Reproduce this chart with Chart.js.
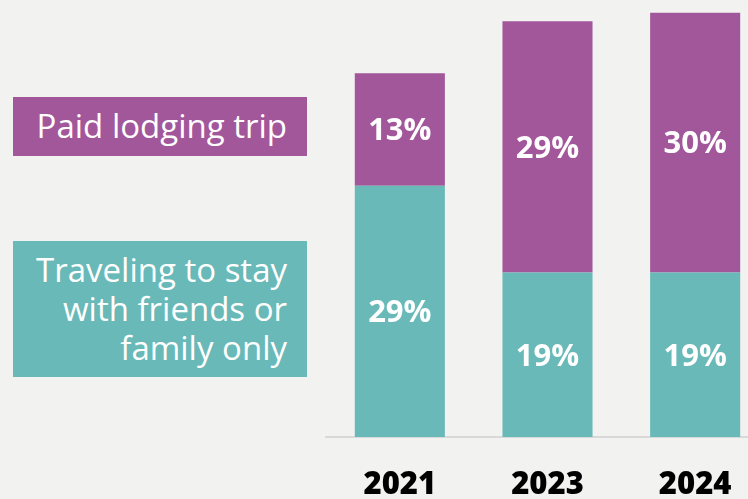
<!DOCTYPE html>
<html>
<head>
<meta charset="utf-8">
<script src="https://cdn.jsdelivr.net/npm/chart.js@4/dist/chart.umd.min.js"></script>
<style>
  html, body { margin: 0; padding: 0; background: #f2f2f0; overflow: hidden; }
  #wrap { position: relative; width: 748px; height: 499px; overflow: hidden; }
  #grafica { position: absolute; left: 0; top: 0; }
  .key { position: absolute; left: 13px; width: 294px; box-sizing: border-box; padding-right: 20px;
         color: #fff; font-family: "Open Sans", sans-serif; font-size: 33px; text-align: right; }
</style>
</head>
<body>
<div id="wrap">
  <canvas id="grafica" width="769" height="499"></canvas>
  <div class="key" id="keyPaid" style="top:97px;height:59px;line-height:57px;"></div>
  <div class="key" id="keyFriends" style="top:241px;height:136px;padding-top:9px;line-height:39px;"></div>
</div>
<script>
const years = ['2021', '2023', '2024'];
const paidLodging = [13, 29, 30];
const friendsFamily = [29, 19, 19];
const paidName = ['Paid lodging trip'];
const friendsName = ['Traveling to stay', 'with friends or', 'family only'];

const purple = '#a2579b';
const teal = '#68b9b8';

document.querySelector('#keyPaid').style.background = purple;
document.querySelector('#keyPaid').innerHTML = paidName.join('<br>');
document.querySelector('#keyFriends').style.background = teal;
document.querySelector('#keyFriends').innerHTML = friendsName.join('<br>');

const graph = document.querySelector('#grafica');

// white % labels in the middle of every segment
const segmentLabels = {
  id: 'segmentLabels',
  afterDatasetsDraw(chart) {
    const ctx = chart.ctx;
    ctx.save();
    ctx.fillStyle = '#fff';
    ctx.font = 'bold 31px "Open Sans"';
    ctx.textAlign = 'center';
    ctx.textBaseline = 'middle';
    chart.data.datasets.forEach(function(ds, i) {
      chart.getDatasetMeta(i).data.forEach(function(bar, j) {
        ctx.fillText(ds.data[j] + '%', bar.x, (bar.y + bar.base) / 2 + 2);
      });
    });
    ctx.restore();
  }
};

const data = {
  labels: years,
  datasets: [
    { label: friendsName.join(' '), data: friendsFamily, backgroundColor: teal },
    { label: paidName[0], data: paidLodging, backgroundColor: purple }
  ]
};

const config = {
  type: 'bar',
  data: data,
  options: {
    responsive: false,
    animation: false,
    layout: { padding: { left: 326, top: 4, right: 0, bottom: 0 } },
    datasets: { bar: { categoryPercentage: 1, barPercentage: 0.61, borderWidth: 0 } },
    plugins: { legend: { display: false }, tooltip: { enabled: false } },
    scales: {
      x: {
        stacked: true,
        grid: { display: false },
        border: { display: true, color: '#d9d9d9', width: 2 },
        ticks: { color: '#000', font: { family: 'Open Sans', size: 31, weight: 800 }, padding: 22 },
        afterFit: function(scale) { scale.height = 62; }
      },
      y: { stacked: true, display: false, min: 0, max: 50 }
    }
  },
  plugins: [segmentLabels]
};

new Chart(graph, config);
</script>
</body>
</html>
